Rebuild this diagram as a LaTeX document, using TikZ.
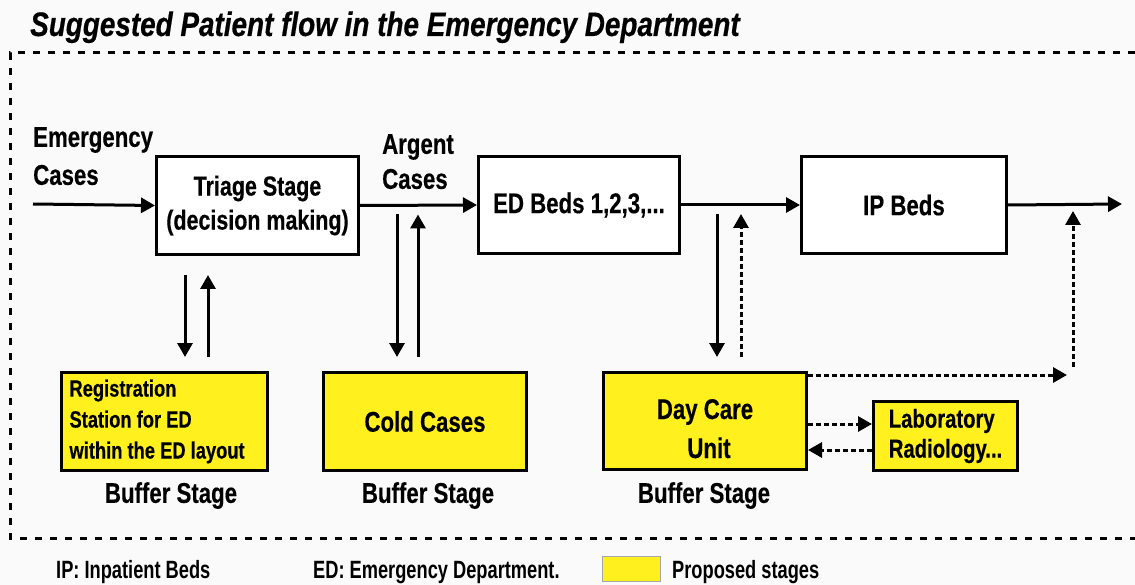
\documentclass[tikz,border=0pt]{standalone}
\usepackage{fontspec}
\setmainfont{Liberation Sans}[FakeStretch=0.78, BoldFeatures={FakeBold=0.4}]
\newfontfamily\titlefont{Liberation Sans}[FakeStretch=0.82, BoldItalicFeatures={FakeBold=0.5}]
\newfontfamily\legendfont{Liberation Sans}[FakeStretch=0.73]
\usetikzlibrary{arrows.meta,calc}
\definecolor{ybuf}{RGB}{255,240,30}
\definecolor{bg}{RGB}{250,250,250}
\tikzset{
  fs/.style={font=\fontsize{#1}{34}\selectfont\bfseries},
  box/.style={draw, line width=3pt, fill=white, inner sep=0pt, align=center},
  ybox/.style={box, fill=ybuf},
  arr/.style={line width=3pt, -{Triangle[length=14pt,width=15pt]}},
  darr/.style={arr, dash pattern=on 5pt off 3pt},
  frame/.style={line width=3pt, dash pattern=on 7pt off 8pt},
  lbl/.style={inner sep=0pt, align=left},
  leg/.style={inner sep=0pt, anchor=base west, font=\legendfont\fontsize{25}{30}\selectfont\bfseries}
}
\begin{document}
\begin{tikzpicture}[x=1pt,y=-1pt]
\fill[bg] (0,0) rectangle (1135,585);
\useasboundingbox (0,0) rectangle (1135,585);

% title
\node[inner sep=0pt, anchor=base west, font=\titlefont\fontsize{34}{38}\selectfont\bfseries\itshape] (title) at (30,36) {Suggested Patient flow in the Emergency Department};

% dashed frame
\draw[frame] (1135,53) -- (10,53) -- (10,538) -- (1135,538);

% main boxes
\node[box, font=\fontsize{27.5}{34}\selectfont\bfseries, minimum width=202pt, minimum height=98pt, anchor=north west] (triage) at (155,155) {Triage Stage\\(decision making)};
\node[box, fs=28.5, minimum width=201pt, minimum height=97pt, anchor=north west] (ed) at (477,155) {ED Beds 1,2,3,...};
\node[box, fs=28.5, minimum width=205pt, minimum height=97pt, anchor=north west] (ip) at (800,155) {IP Beds};

% yellow boxes
\node[ybox, minimum width=206pt, minimum height=98pt, anchor=north west, align=flush left, text width=190pt, inner xsep=8pt, font=\fontsize{23.5}{31}\selectfont\bfseries] (reg) at (60,371) {Registration\\Station for ED\\within the ED layout};
\node[ybox, fs=28.5, minimum width=203pt, minimum height=98pt, anchor=north west] (cold) at (322,371) {Cold Cases};
\node[ybox, minimum width=203pt, minimum height=97pt, anchor=north west, text height=74pt, text depth=0pt, font=\fontsize{28.5}{39}\selectfont\bfseries] (day) at (602,371) {Day Care\\\hspace*{8pt}Unit};
\node[ybox, minimum width=144pt, minimum height=69pt, anchor=north west, align=left, font=\fontsize{26}{30}\selectfont\bfseries] (lab) at (872,400) {Laboratory\\Radiology...};

% labels
\node[lbl, anchor=north west, font=\fontsize{28.5}{38}\selectfont\bfseries] (emg) at (33,127) {Emergency\\Cases};
\node[lbl, anchor=north west, font=\fontsize{28.5}{35}\selectfont\bfseries] (argent) at (382,134) {Argent\\Cases};
\node[lbl, anchor=north, fs=28.5] (b1) at (171,482) {Buffer Stage};
\node[lbl, anchor=north, fs=28.5] (b2) at (428,482) {Buffer Stage};
\node[lbl, anchor=north, fs=28.5] (b3) at (704,482) {Buffer Stage};

% coordinates
\coordinate (in) at (33,204);
\coordinate (out) at (1122,204);
\coordinate (c1) at (185,0);
\coordinate (c2) at (208,0);
\coordinate (c3) at (397,0);
\coordinate (c4) at (418,0);
\coordinate (c5) at (717,0);
\coordinate (c6) at (741,0);
\coordinate (c7) at (1073,0);
\coordinate (ipin) at (1067,375);
\coordinate (d1) at ($(day.east)+(0,3)$);
\coordinate (d2) at ($(lab.west)+(0,14)$);

% main flow
\draw[arr] (in) -- (triage.west);
\draw[arr] (triage.east) -- (ed.west);
\draw[arr] (ed.east) -- (ip.west);
\draw[arr] (ip.east) -- (out);

% triage <-> registration
\draw[arr] ($(triage.south -| c1)+(0,19)$) -- ($(reg.north -| c1)+(0,-14)$);
\draw[arr] ($(reg.north -| c2)+(0,-14)$) -- ($(triage.south -| c2)+(0,19)$);
% argent <-> cold
\draw[arr] ($(triage.east -| c3)+(0,9)$) -- ($(cold.north -| c3)+(0,-14)$);
\draw[arr] ($(cold.north -| c4)+(0,-14)$) -- ($(triage.east -| c4)+(0,9)$);
% ED -> day care, day care -> IP
\draw[arr] ($(ed.east -| c5)+(0,9)$) -- ($(day.north -| c5)+(0,-14)$);
\draw[darr] ($(day.north -| c6)+(0,-14)$) -- ($(ed.east -| c6)+(0,9)$);
% day care -> out
\draw[darr] ($(day.north east)+(0,4)$) -- (ipin);
\draw[darr] ($(ipin -| c7)+(0,-8)$) -- ($(ip.east -| c7)+(0,6)$);
% day care <-> lab
\draw[darr] (d1) -- (d1 -| lab.west);
\draw[darr] (d2) -- (d2 -| day.east);

% legend
\node[leg] (l1) at (56,578) {IP: Inpatient Beds};
\node[leg] (l2) at (313,578) {ED: Emergency Department.};
\node[draw=gray!70, line width=0.8pt, fill=ybuf, minimum width=58pt, minimum height=25pt, inner sep=0pt, anchor=north west] (sw) at (602,556) {};
\node[leg] (l3) at (672,578) {Proposed stages};
\end{tikzpicture}
\end{document}
